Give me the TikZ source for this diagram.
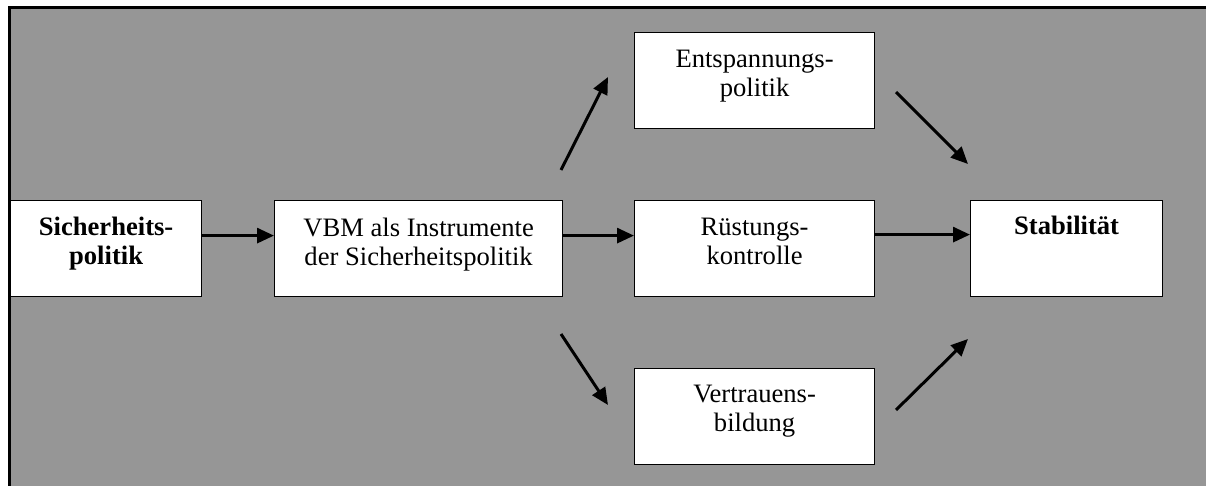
\documentclass[tikz,border=0pt]{standalone}
\usepackage{fontspec}
\setmainfont{Liberation Serif}
\usetikzlibrary{arrows.meta}
\definecolor{bggray}{RGB}{150,150,150}
\tikzset{
  box/.style={draw=black, fill=white, line width=0.6pt, inner sep=0pt, anchor=north west},
  lbl/.style={anchor=base, inner sep=0pt, align=center, font=\fontsize{13.3}{14.5}\selectfont},
  arr/.style={line width=1.5pt, -{Triangle[length=8.5pt,width=7.5pt]}},
}
\begin{document}
\begin{tikzpicture}[x=0.5pt,y=-0.5pt]
\useasboundingbox (0,0) rectangle (1206,486);
\fill[white] (0,0) rectangle (1206,486);
\fill[bggray] (8,6) rectangle (1216,496);
\draw[line width=1.5pt] (9.5,496) -- (9.5,7.5) -- (1216,7.5);
% boxes
\node[box, minimum width=95.5pt, minimum height=48pt] (S) at (10,200) {};
\node[box, minimum width=144pt, minimum height=48pt] (V) at (274,200) {};
\node[box, minimum width=120pt, minimum height=48pt] (E) at (634,32) {};
\node[box, minimum width=120pt, minimum height=48pt] (R) at (634,200) {};
\node[box, minimum width=120pt, minimum height=48pt] (T) at (634,368) {};
\node[box, minimum width=96pt, minimum height=48pt] (St) at (970,200) {};
% labels (base = baseline of last line)
\node[lbl, font=\fontsize{13.3}{14.5}\selectfont\bfseries] (Sl) at ([yshift=-32.5pt]S.north) {Sicherheits-\\politik};
\node[lbl] (Vl) at ([yshift=-33pt]V.north) {VBM als Instrumente\\der Sicherheitspolitik};
\node[lbl] (El) at ([yshift=-32.5pt]E.north) {Entspannungs-\\politik};
\node[lbl] (Rl) at ([yshift=-32.5pt]R.north) {Rüstungs-\\kontrolle};
\node[lbl] (Tl) at ([yshift=-31.5pt]T.north) {Vertrauens-\\bildung};
\node[lbl, font=\fontsize{13.3}{14.5}\selectfont\bfseries] (Stl) at ([yshift=-17.5pt]St.north) {Stabilität};
% horizontal arrows
\draw[arr] ([yshift=6.5pt]S.east) -- ([yshift=6.5pt]V.west);
\draw[arr] ([yshift=6.5pt]V.east) -- ([yshift=6.5pt]R.west);
\draw[arr] ([yshift=7pt]R.east) -- ([yshift=7pt]St.west);
% diagonal arrows
\coordinate (a1) at (561,170);
\coordinate (a2) at (608,77);
\coordinate (b1) at (561,334);
\coordinate (b2) at (608,405);
\coordinate (c1) at (896,92);
\coordinate (c2) at (968,164);
\coordinate (d1) at (896,410);
\coordinate (d2) at (968,339);
\draw[arr] (a1) -- (a2);
\draw[arr] (b1) -- (b2);
\draw[arr] (c1) -- (c2);
\draw[arr] (d1) -- (d2);
\end{tikzpicture}
\end{document}
